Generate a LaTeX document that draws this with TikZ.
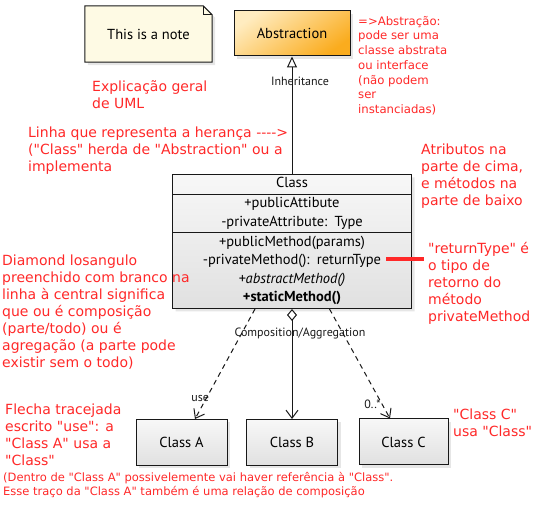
\documentclass[tikz,border=0pt]{standalone}
\usepackage{fontspec}
\setmainfont{DejaVu Sans}[Ligatures=TeXOff]
\newfontfamily\sketchfont{PT Sans}[Ligatures=TeXOff]
\usetikzlibrary{shapes.multipart,arrows.meta,shadows,backgrounds}
\definecolor{notered}{RGB}{255,40,40}
\definecolor{linegray}{RGB}{24,24,24}
\definecolor{notefill}{RGB}{254,250,228}
\definecolor{orangelight}{RGB}{255,236,192}
\definecolor{orangedark}{RGB}{250,172,30}
\newcommand{\umlrow}[1]{\rule[-6pt]{0pt}{18.5pt}#1}

\begin{document}
\begin{tikzpicture}[x=1pt, y=-1pt,
    box/.style={draw=linegray, line width=1pt, font=\sketchfont\fontsize{14.5}{17}\selectfont,
        drop shadow={shadow xshift=3pt, shadow yshift=-3pt, opacity=0.2}},
    grayfill/.style={top color=white!97!black, bottom color=black!12},
    redtext/.style={text=notered, align=left, anchor=north west, inner sep=0pt, font=\fontsize{14}{17}\selectfont},
    smallred/.style={redtext, font=\fontsize{11.7}{14.7}\selectfont},
    lbl/.style={font=\sketchfont\fontsize{12}{14}\selectfont, inner sep=1pt, text=linegray},
    umlarrow/.style={draw=linegray, line width=1pt}]
    \useasboundingbox (0,0) rectangle (550,508);

    % Nodes
    \node [font=\sketchfont\fontsize{14.5}{17}\selectfont, minimum width=127pt, minimum height=56pt, inner sep=0pt] (note) at (148.5,34) {This is a note};
    \node [box, top color=orangelight, bottom color=orangedark, shading angle=35, minimum width=116pt, minimum height=45pt] (abstraction) at (292,33.5) {Abstraction};
    \node [box, grayfill, rectangle split, rectangle split parts=3, text width=225pt, align=center, inner xsep=7pt, inner ysep=0.25pt,
        font=\sketchfont\fontsize{14.5}{18.5}\selectfont, anchor=north] (class) at (292,174)
        {\umlrow{Class}
         \nodepart{two} \umlrow{+publicAttibute}\\\umlrow{-privateAttribute: Type}
         \nodepart{three} \umlrow{+publicMethod(params)}\\\umlrow{-privateMethod(): returnType}\\\umlrow{{\itshape +abstractMethod()}}\\\umlrow{{\bfseries +staticMethod()}}};
    \node [box, grayfill, minimum width=91pt, minimum height=46pt] (classA) at (181.5,442.5) {Class A};
    \node [box, grayfill, minimum width=91pt, minimum height=46pt] (classB) at (292,442.5) {Class B};
    \node [box, grayfill, minimum width=89pt, minimum height=46pt] (classC) at (403.5,442) {Class C};

    % note outline with folded corner
    \begin{scope}[on background layer]
        \filldraw [fill=notefill, draw=linegray, line width=1pt, drop shadow={shadow xshift=3pt, shadow yshift=-3pt, opacity=0.2}]
            (note.north west) -- ([xshift=-9pt]note.north east) -- ([yshift=-9pt]note.north east) -- (note.south east) -- (note.south west) -- cycle;
        \draw [linegray, line width=0.8pt] ([xshift=-9pt]note.north east) -- ([xshift=-9pt,yshift=-9pt]note.north east) -- ([yshift=-9pt]note.north east);
    \end{scope}

    % Annotations
    \node [redtext] (umlnote) at (92,80) {Explicação geral\\de UML};
    \node [redtext] (heranca) at (28,127) {Linha que representa a herança ---->\\("Class" herda de "Abstraction" ou a\\implementa};
    \node [smallred] (abstracao) at (358,16) {=>Abstração:\\pode ser uma\\classe abstrata\\ou interface\\(não podem\\ser\\instanciadas)};
    \node [redtext] (atributos) at (421,144) {Atributos na\\parte de cima,\\e métodos na\\parte de baixo};
    \node [redtext] (diamante) at (2,255) {Diamond losangulo\\preenchido com branco na\\linha à central significa\\que ou é composição\\(parte/todo) ou é\\agregação (a parte pode\\existir sem o todo)};
    \node [redtext] (retorno) at (428,242) {"returnType" é\\o tipo de\\retorno do\\método\\privateMethod};
    \node [redtext] (flecha) at (5,404) {Flecha tracejada\\escrito "use": a\\"Class A" usa a\\"Class"};
    \node [redtext] (usaclass) at (453,409) {"Class C"\\usa "Class"};
    \node [redtext, font=\fontsize{11.5}{14}\selectfont] (dentro) at (3,472) {(Dentro de "Class A" possivelemente vai haver referência à "Class".\\Esse traço da "Class A" também é uma relação de composição};

    % red marker
    \coordinate (barstart) at (386,259);
    \coordinate (barend) at (424,259);
    \draw [notered, line width=4pt] (barstart) -- (barend);

    % Arrows
    \draw [umlarrow, -{Triangle[open, length=11pt, width=10pt]}] (class.north) -- (abstraction.south)
        node [lbl, pos=0.79, xshift=8pt] {Inheritance};
    \draw [umlarrow, {Diamond[open, length=12pt, width=10pt]}-{Straight Barb[length=8pt, width=12pt]}] (class.south) -- (classB.north)
        node [lbl, pos=0.22, xshift=8pt] {Composition/Aggregation};
    \draw [umlarrow, dash pattern=on 5pt off 4pt, -{Straight Barb[length=8pt, width=12pt]}] ([xshift=-37pt]class.south) -- ([xshift=13.5pt]classA.north)
        node [lbl, pos=0.81, left, xshift=4pt] {use};
    \draw [umlarrow, dash pattern=on 5pt off 4pt, -{Straight Barb[length=8pt, width=12pt]}] ([xshift=37.5pt]class.south) -- ([xshift=-13.5pt]classC.north)
        node [lbl, pos=0.87, left] {0..*};
\end{tikzpicture}
\end{document}
